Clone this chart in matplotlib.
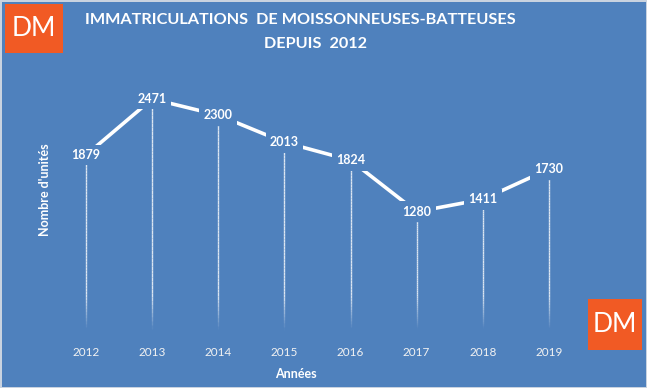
import numpy as np
import matplotlib
matplotlib.use("Agg")
import matplotlib.pyplot as plt
from matplotlib.collections import LineCollection
from matplotlib.patches import Rectangle

annees = [2012, 2013, 2014, 2015, 2016, 2017, 2018, 2019]
unites = [1879, 2471, 2300, 2013, 1824, 1280, 1411, 1730]

bleu = "#4F81BD"
orange = "#F15A24"
police = ["Lato", "DejaVu Sans"]

fig = plt.figure(figsize=(6.47, 3.88), dpi=100)
fig.patch.set_facecolor(bleu)
fig.patch.set_edgecolor("#C9D3E0")
fig.patch.set_linewidth(2)

ax = fig.add_axes([0.0819, 0.1418, 0.8176, 0.6835])
ax.set_facecolor(bleu)
ax.set_xlim(2011.5, 2019.5)
ax.set_ylim(0, 2800)

# lignes de rappel qui s'estompent vers le bas
for x, v in zip(annees, unites):
    ys = np.linspace(v, 0, 60)
    segs = [[(x, ys[i]), (x, ys[i + 1])] for i in range(len(ys) - 1)]
    alphas = []
    for i in range(len(ys) - 1):
        y = ys[i]
        a = 0.8 if y > 420 else 0.8 * max(y - 60, 0) / 360
        alphas.append(a)
    cols = [(1, 1, 1, a) for a in alphas]
    ax.add_collection(LineCollection(segs, colors=cols, linewidths=1.0, zorder=1))

ax.plot(annees, unites, color="white", lw=2.6, zorder=2, solid_capstyle="butt")

for x, v in zip(annees, unites):
    ax.text(x, v, str(v), ha="center", va="center", color="white",
            fontsize=9, fontweight="bold", family=police, zorder=3,
            bbox=dict(boxstyle="square,pad=0.35", fc=bleu, ec="none"))

for s in ax.spines.values():
    s.set_visible(False)
ax.set_yticks([])
ax.set_xticks(annees)
ax.set_xticklabels([str(a) for a in annees], color="#F2F2F2", fontsize=8.5, family=police)
ax.tick_params(axis="x", length=0, pad=10)

fig.text(0.4567, 0.036, "Années", ha="center", va="center", color="white",
         fontsize=9, fontweight="bold", family=police)
fig.text(0.069, 0.51, "Nombre d'unités", ha="center", va="center", rotation=90,
         color="white", fontsize=9, fontweight="bold", family=police)

fig.text(0.465, 0.948, "IMMATRICULATIONS  DE MOISSONNEUSES-BATTEUSES", ha="center",
         va="center", color="white", fontsize=11.7, fontweight="bold", family=police)
fig.text(0.487, 0.886, "DEPUIS  2012", ha="center", va="center", color="white",
         fontsize=11.7, fontweight="bold", family=police)

# logos DM
for (x0, y0, x1, y1) in [(5, 4, 63, 53), (588, 299, 642, 350)]:
    fig.patches.append(Rectangle((x0 / 647, 1 - y1 / 388), (x1 - x0) / 647, (y1 - y0) / 388,
                                 transform=fig.transFigure, fc=orange, ec="none", zorder=5))
    fig.text((x0 + x1) / 2 / 647, 1 - (y0 + y1) / 2 / 388, "DM", ha="center", va="center",
             color="white", fontsize=19, family=police, fontweight="normal", zorder=6)

fig.savefig("out.png", dpi=100, facecolor=fig.get_facecolor(), edgecolor=fig.get_edgecolor())
